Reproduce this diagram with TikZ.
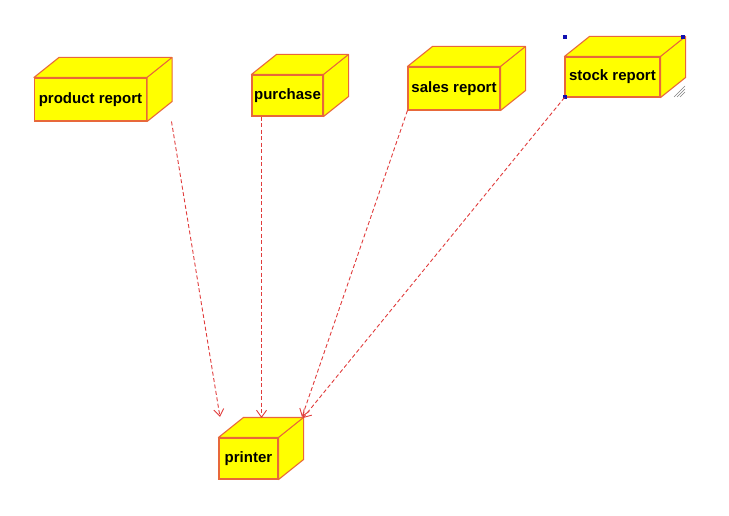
\documentclass[tikz,border=0pt]{standalone}
\usepackage{fontspec}
\setmainfont{Liberation Sans}
\usetikzlibrary{arrows.meta}
\definecolor{boxfill}{HTML}{FFFF00}
\definecolor{boxline}{HTML}{E8683A}
\definecolor{dashred}{HTML}{E03C3C}
\definecolor{handle}{HTML}{1010B0}
\begin{document}
\begin{tikzpicture}
[x=1pt,y=-1pt,%
  every node/.style={shape=rectangle,inner sep=0pt,draw=boxline,fill=boxfill,line width=1.1pt,
    font=\fontsize{15}{18}\selectfont\bfseries},%
  face/.style={draw=boxline,fill=boxfill,line width=1.1pt,line join=round},%
  dep/.style={-{Straight Barb[length=7pt,width=10pt]},dashred,line width=0.9pt,dash pattern=on 4pt off 2.5pt}]
\useasboundingbox (0,0) rectangle (729,516);
\node[minimum width=112pt,minimum height=43pt] (prod) at (90.5,99.5) {product report};
\node[minimum width=71pt,minimum height=41pt] (purch) at (287.5,95.5) {purchase};
\node[minimum width=92pt,minimum height=43pt] (sales) at (454,88.5) {sales report};
\node[minimum width=95pt,minimum height=40pt] (stock) at (612.5,77) {stock report};
\node[minimum width=59pt,minimum height=41pt] (printer) at (248.5,458.5) {printer};
% top and side faces
\foreach \n in {prod,purch,sales,stock,printer} {
  \draw[face] (\n.north west) -- ++(25,-20) -- ([shift={(25,-20)}]\n.north east)
    -- ([shift={(25,-20)}]\n.south east) -- (\n.south east) -- (\n.north east) -- cycle;
  \draw[face,fill=none] (\n.north east) -- ++(25,-20);
}
% selection handles
\foreach \p in {(565,37),(683,37),(565,97)}
  \fill[handle] \p +(-2,-2) rectangle +(2,2);
\foreach \d in {0,3,6}
  \draw[gray,line width=0.6pt] (674+\d,97) -- (685,86+\d);
% dependencies
\coordinate (prodend) at (220,417);
\coordinate (purchend) at (261.5,418);
\coordinate (salesend) at (302,417);
\coordinate (stockend) at (303,418);
\draw[dep] ([shift={(81,22)}]prod.center) -- (prodend);
\draw[dep] ([xshift={-26pt}]purch.south) -- (purchend);
\draw[dep] (sales.south west) -- (salesend);
\draw[dep] (stock.south west) -- (stockend);
\end{tikzpicture}
\end{document}
